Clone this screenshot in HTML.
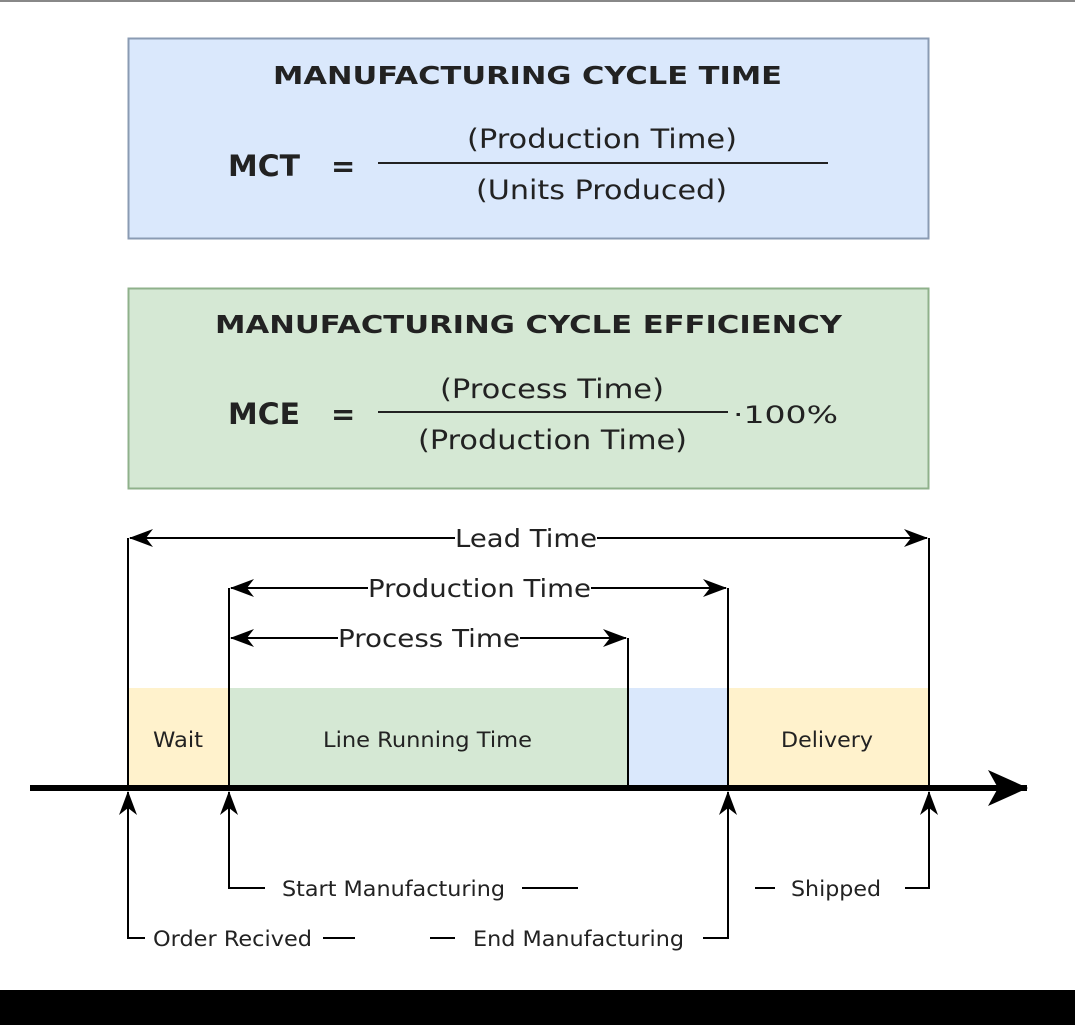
<!DOCTYPE html>
<html><head><style>
html,body{margin:0;padding:0;background:#fff;}
svg{display:block;}
text{font-family:"DejaVu Sans","Liberation Sans",sans-serif;fill:#222;}
</style></head><body>
<svg width="1075" height="1025" viewBox="0 0 1075 1025" xmlns="http://www.w3.org/2000/svg">
<defs>
<marker id="a" viewBox="0 0 24 18" refX="23" refY="9" markerWidth="24" markerHeight="18" markerUnits="userSpaceOnUse" orient="auto-start-reverse">
<path d="M0,0 L24,9 L0,18 L7,9 Z" fill="#000"/>
</marker>
<marker id="b" viewBox="0 0 40 36" refX="39" refY="18" markerWidth="40" markerHeight="36" markerUnits="userSpaceOnUse" orient="auto">
<path d="M0,0 L40,18 L0,36 L10,18 Z" fill="#000"/>
</marker>
</defs>
<rect x="0" y="0" width="1075" height="1025" fill="#fff"/>
<rect x="0" y="0" width="1075" height="2" fill="#888"/>

<rect x="128.5" y="38.5" width="800" height="200" fill="#dae8fc" stroke="#8a9bb3" stroke-width="2"/>
<text x="273" y="84" font-size="25" font-weight="bold" textLength="509" lengthAdjust="spacingAndGlyphs" fill="#111">MANUFACTURING CYCLE TIME</text>
<text x="228" y="176" font-size="29" font-weight="bold" textLength="72" lengthAdjust="spacingAndGlyphs" fill="#111">MCT</text>
<text x="331" y="176" font-size="29" font-weight="bold" fill="#111">=</text>
<line x1="378" y1="163" x2="828" y2="163" stroke="#222" stroke-width="2"/>
<text x="467" y="148" font-size="27" textLength="270" lengthAdjust="spacingAndGlyphs">(Production Time)</text>
<text x="476" y="199" font-size="27" textLength="251" lengthAdjust="spacingAndGlyphs">(Units Produced)</text>

<rect x="128.5" y="288.5" width="800" height="200" fill="#d5e8d4" stroke="#8fb18b" stroke-width="2"/>
<text x="215" y="333" font-size="25" font-weight="bold" textLength="627" lengthAdjust="spacingAndGlyphs" fill="#111">MANUFACTURING CYCLE EFFICIENCY</text>
<text x="228" y="424" font-size="29" font-weight="bold" textLength="72" lengthAdjust="spacingAndGlyphs" fill="#111">MCE</text>
<text x="331" y="424" font-size="29" font-weight="bold" fill="#111">=</text>
<line x1="378" y1="412" x2="728" y2="412" stroke="#222" stroke-width="2"/>
<text x="440" y="398" font-size="27" textLength="224" lengthAdjust="spacingAndGlyphs">(Process Time)</text>
<text x="418" y="449" font-size="27" textLength="269" lengthAdjust="spacingAndGlyphs">(Production Time)</text>
<text x="733" y="423" font-size="24" textLength="105" lengthAdjust="spacingAndGlyphs">·100%</text>

<rect x="128" y="688" width="101" height="100" fill="#fff2cc"/>
<rect x="229" y="688" width="399" height="100" fill="#d5e8d4"/>
<rect x="628" y="688" width="100" height="100" fill="#dae8fc"/>
<rect x="728" y="688" width="201" height="100" fill="#fff2cc"/>
<text x="153" y="747" font-size="21" textLength="50" lengthAdjust="spacingAndGlyphs">Wait</text>
<text x="323" y="747" font-size="21" textLength="209" lengthAdjust="spacingAndGlyphs">Line Running Time</text>
<text x="781" y="747" font-size="21" textLength="92" lengthAdjust="spacingAndGlyphs">Delivery</text>

<g stroke="#000" stroke-width="2" fill="none">
<line x1="128" y1="538" x2="128" y2="788"/>
<line x1="929" y1="538" x2="929" y2="788"/>
<line x1="229" y1="588" x2="229" y2="788"/>
<line x1="728" y1="588" x2="728" y2="788"/>
<line x1="628" y1="638" x2="628" y2="788"/>
<line x1="130" y1="538" x2="455" y2="538" marker-start="url(#a)"/>
<line x1="597" y1="538" x2="927" y2="538" marker-end="url(#a)"/>
<line x1="231" y1="588" x2="368" y2="588" marker-start="url(#a)"/>
<line x1="591" y1="588" x2="726" y2="588" marker-end="url(#a)"/>
<line x1="231" y1="638" x2="338" y2="638" marker-start="url(#a)"/>
<line x1="520" y1="638" x2="626" y2="638" marker-end="url(#a)"/>
</g>
<text x="455" y="547" font-size="25" textLength="142" lengthAdjust="spacingAndGlyphs">Lead Time</text>
<text x="368" y="597" font-size="25" textLength="223" lengthAdjust="spacingAndGlyphs">Production Time</text>
<text x="338" y="647" font-size="25" textLength="182" lengthAdjust="spacingAndGlyphs">Process Time</text>

<line x1="30" y1="788" x2="1027" y2="788" stroke="#000" stroke-width="6" marker-end="url(#b)"/>

<g stroke="#000" stroke-width="2" fill="none">
<polyline points="145,938 128,938 128,792" marker-end="url(#a)"/>
<polyline points="265,888 229,888 229,792" marker-end="url(#a)"/>
<polyline points="703,938 728,938 728,792" marker-end="url(#a)"/>
<polyline points="905,888 929,888 929,792" marker-end="url(#a)"/>
<line x1="522" y1="888" x2="578" y2="888"/>
<line x1="755" y1="888" x2="775" y2="888"/>
<line x1="323" y1="938" x2="355" y2="938"/>
<line x1="430" y1="938" x2="455" y2="938"/>
</g>
<text x="282" y="896" font-size="21" textLength="223" lengthAdjust="spacingAndGlyphs">Start Manufacturing</text>
<text x="791" y="896" font-size="21" textLength="90" lengthAdjust="spacingAndGlyphs">Shipped</text>
<text x="153" y="946" font-size="21" textLength="159" lengthAdjust="spacingAndGlyphs">Order Recived</text>
<text x="473" y="946" font-size="21" textLength="211" lengthAdjust="spacingAndGlyphs">End Manufacturing</text>

<rect x="0" y="990" width="1075" height="35" fill="#000"/>
</svg>
</body></html>
